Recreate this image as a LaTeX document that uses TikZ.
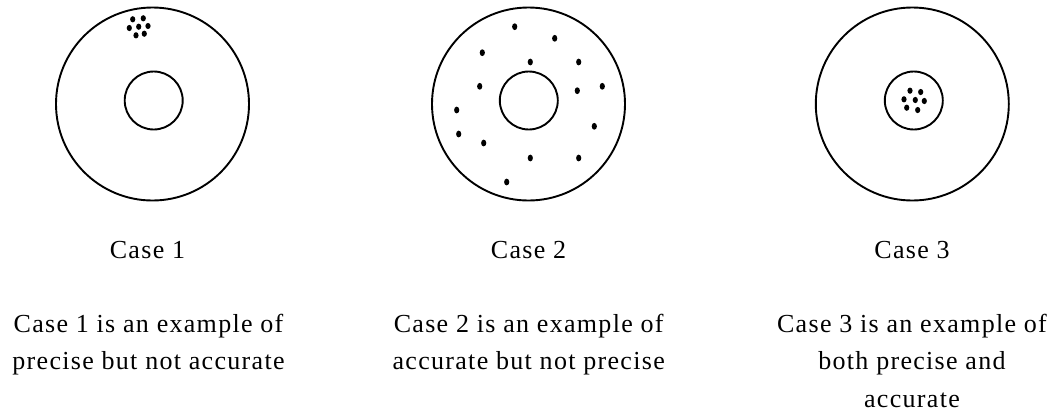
\documentclass[tikz,border=0pt]{standalone}
\usepackage{fontspec}
\setmainfont[LetterSpace=5]{Liberation Serif}
\begin{document}
\begin{tikzpicture}[x=1pt, y=-1pt, line width=1.9pt,
    hit/.style={x radius=2.6, y radius=3.4},
    caselabel/.style={font=\fontsize{26}{37.7}\selectfont, anchor=base, inner sep=0pt, align=center}]
  \useasboundingbox (0,0) rectangle (1053,413);
  \coordinate (O1) at (152.5,104); \coordinate (O2) at (528.5,104); \coordinate (O3) at (912.3,104);
  \coordinate (I1) at (153.7,100.5); \coordinate (I2) at (528.8,100.5); \coordinate (I3) at (913.8,100.5);
  % targets
  \draw (O1) circle[radius=96.5] (I1) circle[radius=29];
  \draw (O2) circle[radius=96.5] (I2) circle[radius=29];
  \draw (O3) circle[radius=96.5] (I3) circle[radius=29];
  % Case 1: tight group off the centre
  \foreach \x/\y in {132.7/19.3, 143.3/18.3, 129.3/28, 138.7/26.7, 148/26, 136/35.3, 144.3/33.7}
    \fill (\x,\y) ellipse[hit, y radius=3.1];
  % Case 2: scattered
  \foreach \x/\y in {514.7/26.7, 554.7/38.3, 482.3/52.7, 530.3/62, 578.7/62, 479.7/86.3, 577.3/90.7,
      602.3/86.3, 456.7/110, 594.3/126.3, 458.7/134, 483.7/143, 530.3/158, 578.7/158, 506.7/182}
    \fill (\x,\y) ellipse[hit];
  % Case 3: tight group in the centre
  \foreach \x/\y in {910/90.7, 920.7/92, 904/99.3, 915.3/100, 924.3/101, 906.7/107.7, 917.7/110}
    \fill (\x,\y) ellipse[hit, y radius=3.1];
  \node[caselabel] (lab1) at (147.5,258.3) {Case 1};
  \node[caselabel] (lab2) at (528.5,258.3) {Case 2};
  \node[caselabel] (lab3) at (912,258.3) {Case 3};
  % base = last line
  \node[caselabel] (txt1) at (148.5,369.7) {Case 1 is an example of\\precise but not accurate};
  \node[caselabel] (txt2) at (528.7,369.7) {Case 2 is an example of\\accurate but not precise};
  \node[caselabel] (txt3) at (912,407.4) {Case 3 is an example of\\both precise and\\accurate};
\end{tikzpicture}
\end{document}
